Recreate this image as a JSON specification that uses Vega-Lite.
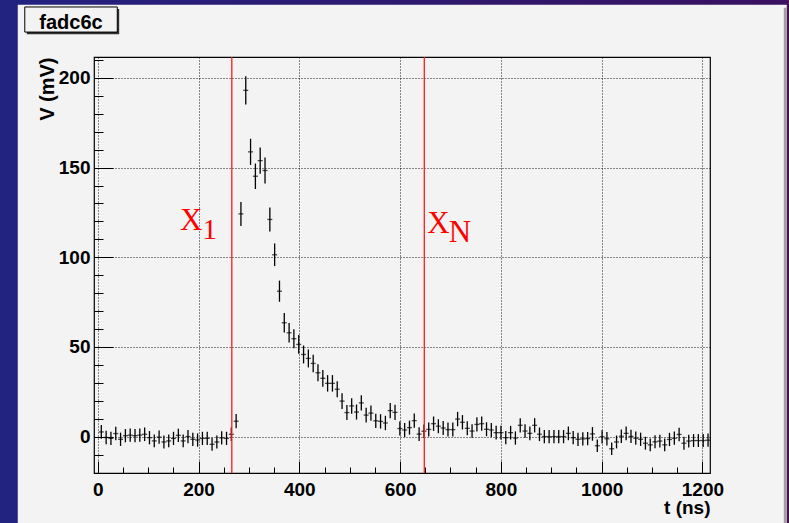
{
  "$schema": "https://vega.github.io/schema/vega-lite/v6.json",
  "width": 616,
  "height": 416,
  "autosize": "none",
  "padding": {"left": 94, "top": 57, "right": 79, "bottom": 50},
  "background": "#f3f3f3",
  "config": {"view": {"stroke": "black", "strokeWidth": 1.2}},
  "data": {"values": [
    {"t":7.0,"v":2.6,"e":3.8},{"t":16.6,"v":-0.5,"e":3.7},{"t":26.1,"v":-1.0,"e":3.7},{"t":35.7,"v":1.7,"e":3.8},
    {"t":45.2,"v":-1.5,"e":3.7},{"t":54.8,"v":0.5,"e":3.7},{"t":64.3,"v":0.8,"e":3.7},{"t":73.9,"v":0.5,"e":3.7},
    {"t":83.4,"v":0.8,"e":3.7},{"t":93.0,"v":1.3,"e":3.8},{"t":102.6,"v":-0.6,"e":3.7},{"t":112.1,"v":-2.4,"e":3.6},
    {"t":121.7,"v":-0.3,"e":3.7},{"t":131.2,"v":-3.0,"e":3.6},{"t":140.8,"v":-2.4,"e":3.6},{"t":150.3,"v":-1.0,"e":3.7},
    {"t":159.9,"v":0.7,"e":3.7},{"t":169.5,"v":-2.4,"e":3.6},{"t":179.0,"v":0.0,"e":3.7},{"t":188.6,"v":-1.5,"e":3.7},
    {"t":198.1,"v":-1.9,"e":3.7},{"t":207.7,"v":-1.0,"e":3.7},{"t":217.2,"v":-1.0,"e":3.7},{"t":226.8,"v":-4.3,"e":3.6},
    {"t":236.3,"v":-3.0,"e":3.6},{"t":245.9,"v":-0.7,"e":3.7},{"t":255.5,"v":-1.0,"e":3.7},{"t":265.0,"v":1.3,"e":3.8},
    {"t":274.6,"v":8.6,"e":4.0},{"t":284.1,"v":124.2,"e":6.7},{"t":293.7,"v":193.1,"e":7.9},{"t":303.2,"v":158.8,"e":7.3},
    {"t":312.8,"v":145.2,"e":7.1},{"t":322.3,"v":153.9,"e":7.3},{"t":331.9,"v":148.4,"e":7.2},{"t":341.5,"v":121.1,"e":6.7},
    {"t":351.0,"v":101.4,"e":6.3},{"t":360.6,"v":81.1,"e":5.9},{"t":370.1,"v":63.5,"e":5.5},{"t":379.7,"v":57.9,"e":5.4},
    {"t":389.2,"v":54.6,"e":5.3},{"t":398.8,"v":51.4,"e":5.2},{"t":408.4,"v":45.8,"e":5.0},{"t":417.9,"v":43.6,"e":5.0},
    {"t":427.5,"v":40.8,"e":4.9},{"t":437.0,"v":35.6,"e":4.8},{"t":446.6,"v":32.5,"e":4.7},{"t":456.1,"v":29.7,"e":4.6},
    {"t":465.7,"v":29.7,"e":4.6},{"t":475.2,"v":26.4,"e":4.5},{"t":484.8,"v":19.8,"e":4.4},{"t":494.4,"v":13.4,"e":4.2},
    {"t":503.9,"v":17.1,"e":4.3},{"t":513.5,"v":13.7,"e":4.2},{"t":523.0,"v":18.8,"e":4.3},{"t":532.6,"v":12.0,"e":4.1},
    {"t":542.1,"v":13.1,"e":4.2},{"t":551.7,"v":8.8,"e":4.0},{"t":561.2,"v":8.5,"e":4.0},{"t":570.8,"v":7.6,"e":4.0},
    {"t":580.4,"v":14.5,"e":4.2},{"t":589.9,"v":13.5,"e":4.2},{"t":599.5,"v":4.5,"e":3.9},{"t":609.0,"v":3.7,"e":3.9},
    {"t":618.6,"v":5.0,"e":3.9},{"t":628.1,"v":8.9,"e":4.0},{"t":637.7,"v":1.4,"e":3.8},{"t":647.3,"v":3.0,"e":3.8},
    {"t":656.8,"v":4.0,"e":3.9},{"t":666.4,"v":7.2,"e":4.0},{"t":675.9,"v":5.8,"e":3.9},{"t":685.5,"v":4.8,"e":3.9},
    {"t":695.0,"v":3.9,"e":3.9},{"t":704.6,"v":3.9,"e":3.9},{"t":714.1,"v":9.8,"e":4.0},{"t":723.7,"v":8.0,"e":4.0},
    {"t":733.3,"v":4.6,"e":3.9},{"t":742.8,"v":3.1,"e":3.8},{"t":752.4,"v":6.8,"e":4.0},{"t":761.9,"v":7.2,"e":4.0},
    {"t":771.5,"v":4.1,"e":3.9},{"t":781.0,"v":3.7,"e":3.9},{"t":790.6,"v":2.2,"e":3.8},{"t":800.1,"v":2.2,"e":3.8},
    {"t":809.7,"v":-0.6,"e":3.7},{"t":819.3,"v":2.2,"e":3.8},{"t":828.8,"v":-0.8,"e":3.7},{"t":838.4,"v":6.3,"e":4.0},
    {"t":847.9,"v":3.1,"e":3.8},{"t":857.5,"v":1.8,"e":3.8},{"t":867.0,"v":6.3,"e":4.0},{"t":876.6,"v":1.3,"e":3.8},
    {"t":886.2,"v":0.0,"e":3.7},{"t":895.7,"v":0.0,"e":3.7},{"t":905.3,"v":0.0,"e":3.7},{"t":914.8,"v":0.0,"e":3.7},
    {"t":924.4,"v":0.0,"e":3.7},{"t":933.9,"v":1.8,"e":3.8},{"t":943.5,"v":-0.6,"e":3.7},{"t":953.0,"v":-1.5,"e":3.7},
    {"t":962.6,"v":-1.3,"e":3.7},{"t":972.2,"v":-1.1,"e":3.7},{"t":981.7,"v":1.5,"e":3.8},{"t":991.3,"v":-5.1,"e":3.5},
    {"t":1000.8,"v":-0.1,"e":3.7},{"t":1010.4,"v":-1.2,"e":3.7},{"t":1019.9,"v":-6.8,"e":3.5},{"t":1029.5,"v":-3.0,"e":3.6},
    {"t":1039.0,"v":0.2,"e":3.7},{"t":1048.6,"v":1.8,"e":3.8},{"t":1058.2,"v":0.1,"e":3.7},{"t":1067.7,"v":-0.9,"e":3.7},
    {"t":1077.3,"v":-1.5,"e":3.7},{"t":1086.8,"v":-3.7,"e":3.6},{"t":1096.4,"v":-4.6,"e":3.6},{"t":1105.9,"v":-2.9,"e":3.6},
    {"t":1115.5,"v":-2.5,"e":3.6},{"t":1125.1,"v":-4.6,"e":3.6},{"t":1134.6,"v":-1.6,"e":3.7},{"t":1144.2,"v":-0.9,"e":3.7},
    {"t":1153.7,"v":1.2,"e":3.8},{"t":1163.3,"v":-3.7,"e":3.6},{"t":1172.8,"v":-2.5,"e":3.6},{"t":1182.4,"v":-2.2,"e":3.6},
    {"t":1191.9,"v":-2.2,"e":3.6},{"t":1201.5,"v":-2.2,"e":3.6},{"t":1211.1,"v":-2.0,"e":3.7}
  ]},
  "resolve": {"axis": {"x": "independent", "y": "independent"}},
  "layer": [
    {
      "data": {"values": [{}]},
      "mark": {"type": "rect", "color": "#222280"},
      "encoding": {
        "x": {"datum": -400, "type": "quantitative", "scale": {"domain": [-7.5, 1215], "nice": false, "zero": false}, "axis": null},
        "x2": {"datum": -158.8},
        "y": {"datum": 400, "type": "quantitative", "scale": {"domain": [-20.3, 211.7], "nice": false, "zero": false}, "axis": null},
        "y2": {"datum": -100}
      }
    },
    {
      "data": {"values": [{}]},
      "mark": {"type": "rect", "color": {"gradient": "linear", "x1": 0, "x2": 1, "y1": 0, "y2": 0, "stops": [{"offset": 0.1, "color": "#222280"}, {"offset": 0.9, "color": "#3a1060"}]}},
      "encoding": {
        "x": {"datum": -400, "type": "quantitative", "scale": {"domain": [-7.5, 1215], "nice": false, "zero": false}, "axis": null},
        "x2": {"datum": 1600},
        "y": {"datum": 400, "type": "quantitative", "scale": {"domain": [-20.3, 211.7], "nice": false, "zero": false}, "axis": null},
        "y2": {"datum": 240.8}
      }
    },
    {
      "data": {"values": [{}]},
      "mark": {"type": "rect", "color": "#4e1057"},
      "encoding": {
        "x": {"datum": 1367.3, "type": "quantitative", "scale": {"domain": [-7.5, 1215], "nice": false, "zero": false}, "axis": null},
        "x2": {"datum": 1600},
        "y": {"datum": 400, "type": "quantitative", "scale": {"domain": [-20.3, 211.7], "nice": false, "zero": false}, "axis": null},
        "y2": {"datum": -100}
      }
    },
    {
      "data": {"values": [{}]},
      "mark": {"type": "rect", "color": "#a0a0a0"},
      "encoding": {
        "x": {"datum": 1361.4, "type": "quantitative", "scale": {"domain": [-7.5, 1215], "nice": false, "zero": false}, "axis": null},
        "x2": {"datum": 1367.3},
        "y": {"datum": 239.2, "type": "quantitative", "scale": {"domain": [-20.3, 211.7], "nice": false, "zero": false}, "axis": null},
        "y2": {"datum": -100}
      }
    },
    {
      "data": {"values": [{}]},
      "mark": {"type": "rect", "color": "#303030"},
      "encoding": {
        "x": {"datum": -140.9, "type": "quantitative", "scale": {"domain": [-7.5, 1215], "nice": false, "zero": false}, "axis": null},
        "x2": {"datum": 42.5},
        "y": {"datum": 238.4, "type": "quantitative", "scale": {"domain": [-20.3, 211.7], "nice": false, "zero": false}, "axis": null},
        "y2": {"datum": 224.4}
      }
    },
    {
      "data": {"values": [{}]},
      "mark": {"type": "rect", "fill": "#f3f3f3", "stroke": "black", "strokeWidth": 1},
      "encoding": {
        "x": {"datum": -144.9, "type": "quantitative", "scale": {"domain": [-7.5, 1215], "nice": false, "zero": false}, "axis": null},
        "x2": {"datum": 38.7},
        "y": {"datum": 239.6, "type": "quantitative", "scale": {"domain": [-20.3, 211.7], "nice": false, "zero": false}, "axis": null},
        "y2": {"datum": 225.6}
      }
    },
    {
      "data": {"values": [{}]},
      "mark": {"type": "text", "text": "fadc6c", "font": "Liberation Sans", "fontWeight": "bold", "fontSize": 20, "color": "black", "align": "center", "baseline": "alphabetic"},
      "encoding": {
        "x": {"datum": -53.2, "type": "quantitative", "scale": {"domain": [-7.5, 1215], "nice": false, "zero": false}, "axis": null},
        "y": {"datum": 227.3, "type": "quantitative", "scale": {"domain": [-20.3, 211.7], "nice": false, "zero": false}, "axis": null}
      }
    },
    {
      "mark": {"type": "errorbar", "color": "black", "thickness": 1.3},
      "encoding": {
        "x": {"field": "t", "type": "quantitative", "scale": {"domain": [-7.5, 1215], "nice": false, "zero": false},
          "axis": {"orient": "bottom", "values": [0, 200, 400, 600, 800, 1000, 1200], "format": "d", "ticks": false, "domain": false,
            "grid": true, "gridColor": "black", "gridDash": [1, 2], "gridWidth": 1, "gridOpacity": 0.9,
            "labelFont": "Liberation Sans", "labelFontWeight": "bold", "labelFontSize": 19, "labelColor": "black",
            "labelPadding": 7, "labelFlush": false, "labelOverlap": false, "zindex": 0,
            "title": "t (ns)", "titleFont": "Liberation Sans", "titleFontWeight": "bold", "titleFontSize": 19, "titleColor": "black",
            "titleX": 616, "titleY": 40, "titleAlign": "right", "titleBaseline": "alphabetic", "titleAnchor": "end"}},
        "y": {"field": "v", "type": "quantitative", "scale": {"domain": [-20.3, 211.7], "nice": false, "zero": false},
          "axis": {"orient": "left", "values": [0, 50, 100, 150, 200], "format": "d", "ticks": false, "domain": false,
            "grid": true, "gridColor": "black", "gridDash": [1, 2], "gridWidth": 1, "gridOpacity": 0.9,
            "labelFont": "Liberation Sans", "labelFontWeight": "bold", "labelFontSize": 19, "labelColor": "black",
            "labelPadding": 4, "labelFlush": false, "labelOverlap": false, "zindex": 0,
            "title": "V (mV)", "titleFont": "Liberation Sans", "titleFontWeight": "bold", "titleFontSize": 20, "titleColor": "black",
            "titleX": -41, "titleY": 0, "titleAngle": 270, "titleAlign": "right", "titleBaseline": "alphabetic"}},
        "yError": {"field": "e"}
      }
    },
    {
      "mark": {"type": "tick", "orient": "horizontal", "size": 5, "thickness": 1.3, "color": "black"},
      "encoding": {
        "x": {"field": "t", "type": "quantitative", "scale": {"domain": [-7.5, 1215], "nice": false, "zero": false},
          "axis": {"orient": "bottom", "values": [0, 200, 400, 600, 800, 1000, 1200], "labels": false, "domain": false, "grid": false,
            "ticks": true, "tickSize": -12, "tickColor": "black", "tickWidth": 1, "title": null}},
        "y": {"field": "v", "type": "quantitative", "scale": {"domain": [-20.3, 211.7], "nice": false, "zero": false},
          "axis": {"orient": "left", "values": [0, 50, 100, 150, 200], "labels": false, "domain": false, "grid": false,
            "ticks": true, "tickSize": -19, "tickColor": "black", "tickWidth": 1, "title": null}}
      }
    },
    {
      "data": {"values": [{}]},
      "mark": {"type": "rule", "color": "#ff1a1a", "strokeWidth": 1.3},
      "encoding": {
        "x": {"datum": 266, "type": "quantitative", "scale": {"domain": [-7.5, 1215], "nice": false, "zero": false}, "axis": null}
      }
    },
    {
      "data": {"values": [{}]},
      "mark": {"type": "rule", "color": "#ff1a1a", "strokeWidth": 1.3},
      "encoding": {
        "x": {"datum": 648, "type": "quantitative", "scale": {"domain": [-7.5, 1215], "nice": false, "zero": false}, "axis": null}
      }
    },
    {
      "data": {"values": [{}]},
      "mark": {"type": "text", "text": "X", "font": "Liberation Serif", "fontSize": 31, "color": "#ff0000", "align": "center", "baseline": "alphabetic"},
      "encoding": {
        "x": {"datum": 185.2, "type": "quantitative", "scale": {"domain": [-7.5, 1215], "nice": false, "zero": false},
          "axis": {"orient": "bottom", "values": [50, 100, 150, 250, 300, 350, 450, 500, 550, 650, 700, 750, 850, 900, 950, 1050, 1100, 1150],
            "labels": false, "domain": false, "grid": false, "ticks": true, "tickSize": -6, "tickColor": "black", "tickWidth": 1, "title": null}},
        "y": {"datum": 115.1, "type": "quantitative", "scale": {"domain": [-20.3, 211.7], "nice": false, "zero": false},
          "axis": {"orient": "left", "values": [-10, 10, 20, 30, 40, 60, 70, 80, 90, 110, 120, 130, 140, 160, 170, 180, 190, 210],
            "labels": false, "domain": false, "grid": false, "ticks": true, "tickSize": -9, "tickColor": "black", "tickWidth": 1, "title": null}}
      }
    },
    {
      "data": {"values": [{}]},
      "mark": {"type": "text", "text": "1", "font": "Liberation Serif", "fontSize": 29, "color": "#ff0000", "align": "center", "baseline": "alphabetic"},
      "encoding": {
        "x": {"datum": 222.3, "type": "quantitative", "scale": {"domain": [-7.5, 1215], "nice": false, "zero": false}, "axis": null},
        "y": {"datum": 110.3, "type": "quantitative", "scale": {"domain": [-20.3, 211.7], "nice": false, "zero": false}, "axis": null}
      }
    },
    {
      "data": {"values": [{}]},
      "mark": {"type": "text", "text": "X", "font": "Liberation Serif", "fontSize": 31, "color": "#ff0000", "align": "center", "baseline": "alphabetic"},
      "encoding": {
        "x": {"datum": 676.3, "type": "quantitative", "scale": {"domain": [-7.5, 1215], "nice": false, "zero": false}, "axis": null},
        "y": {"datum": 113.6, "type": "quantitative", "scale": {"domain": [-20.3, 211.7], "nice": false, "zero": false}, "axis": null}
      }
    },
    {
      "data": {"values": [{}]},
      "mark": {"type": "text", "text": "N", "font": "Liberation Serif", "fontSize": 31, "color": "#ff0000", "align": "center", "baseline": "alphabetic"},
      "encoding": {
        "x": {"datum": 718.8, "type": "quantitative", "scale": {"domain": [-7.5, 1215], "nice": false, "zero": false}, "axis": null},
        "y": {"datum": 108.4, "type": "quantitative", "scale": {"domain": [-20.3, 211.7], "nice": false, "zero": false}, "axis": null}
      }
    }
  ]
}
